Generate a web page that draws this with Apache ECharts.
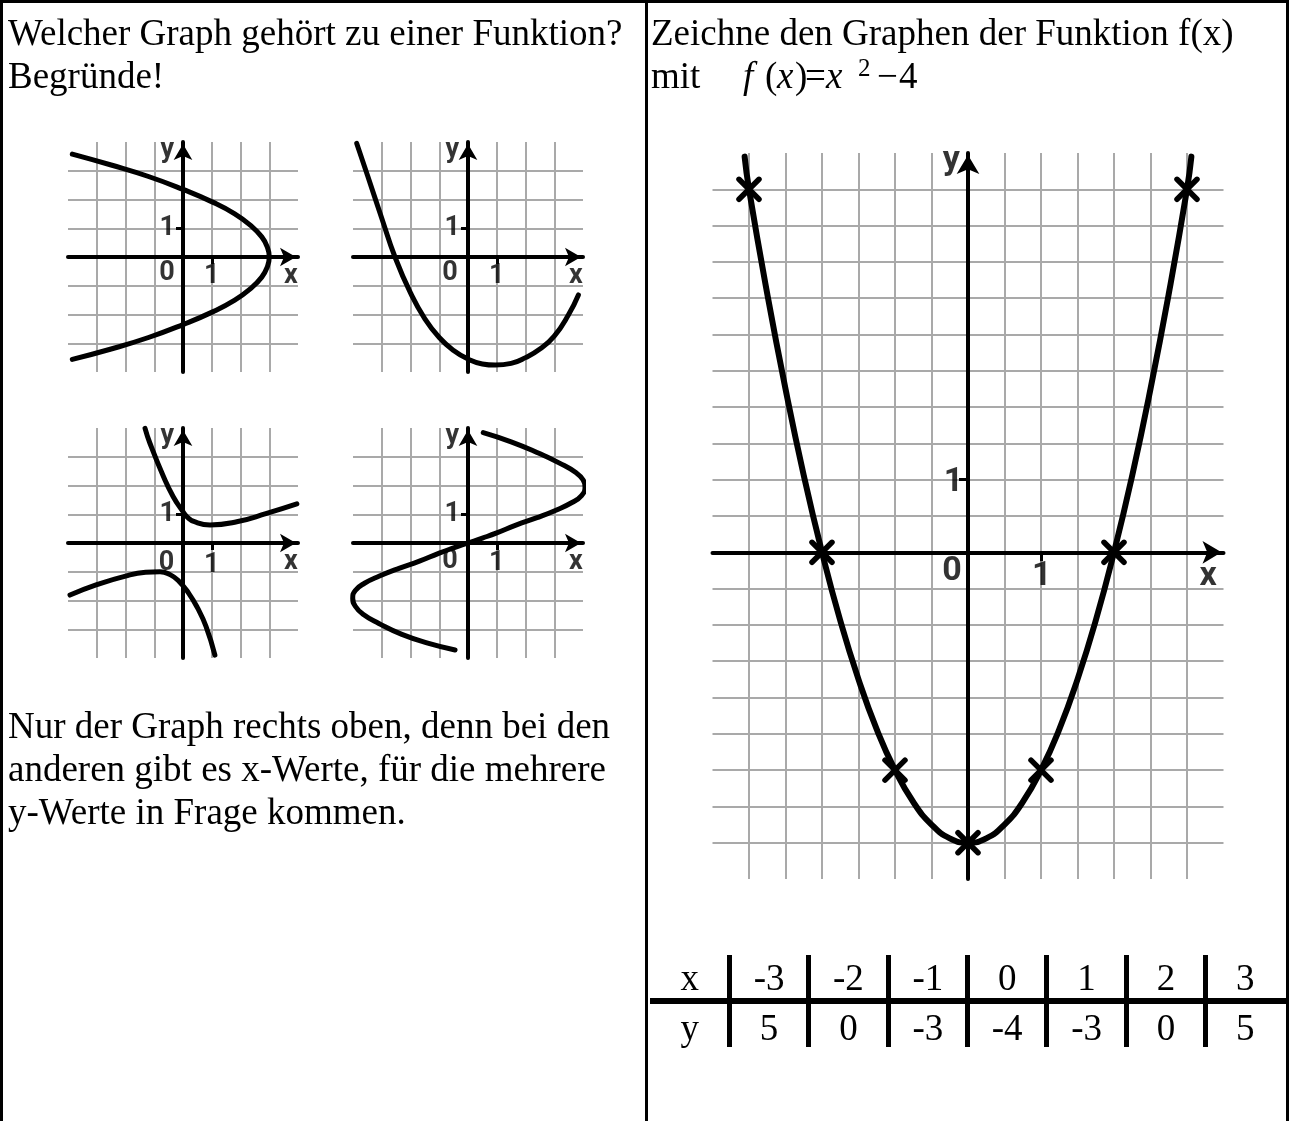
<!DOCTYPE html>
<html lang="de">
<head>
<meta charset="utf-8">
<title>Funktionen – Graphen</title>
<script src="https://cdn.jsdelivr.net/npm/echarts@6/dist/echarts.min.js"></script>
<style>
  html, body { margin: 0; padding: 0; background: #fff; }
  #page {
    position: relative; width: 1289px; height: 1121px; overflow: hidden;
    font-family: 'Liberation Serif', 'Times New Roman', serif;
    font-size: 37px; line-height: 43px; color: #000;
  }
  #chart { position: absolute; left: 0; top: 0; width: 1289px; height: 1121px; }
  .rule { position: absolute; background: #000; }
  .txt { position: absolute; white-space: nowrap; }
  .it { font-style: italic; }
  .cell { position: absolute; text-align: center; white-space: nowrap; }
</style>
</head>
<body>
<div id="page">
  <div id="chart"></div>
  <div id="overlay"></div>
</div>
<script>
// ---- data -------------------------------------------------------------
// value table of f(x) = x^2 - 4
const tableX = [-3, -2, -1, 0, 1, 2, 3];
const tableY = [5, 0, -3, -4, -3, 0, 5];

// points along the drawn parabola (ends run slightly past x = ±3)
const curveX = [-3.06, -3, -2.75, -2.5, -2.25, -2, -1.75, -1.5, -1.25, -1, -0.75, -0.5, -0.25, 0,
                0.25, 0.5, 0.75, 1, 1.25, 1.5, 1.75, 2, 2.25, 2.5, 2.75, 3, 3.06];
const curveY = [5.45, 5, 3.56, 2.25, 1.06, 0, -0.94, -1.75, -2.44, -3, -3.44, -3.75, -3.94, -4,
                -3.94, -3.75, -3.44, -3, -2.44, -1.75, -0.94, 0, 1.06, 2.25, 3.56, 5, 5.45];

// four small sketch graphs (points along each drawn curve)
const g1X = [-3.85, -2.5, -1.2, 0, 1.05, 1.8, 2.35, 2.74, 2.93, 3.0, 2.93, 2.74, 2.35, 1.8, 1.05, 0, -1.2, -2.5, -3.85];
const g1Y = [3.58, 3.2, 2.8, 2.35, 1.9, 1.5, 1.1, 0.7, 0.35, 0, -0.35, -0.7, -1.1, -1.5, -1.9, -2.35, -2.8, -3.2, -3.56];

const g2X = [-3.87, -3.5, -3.0, -2.54, -2.0, -1.5, -1.0, -0.5, 0, 0.5, 0.95, 1.5, 2.0, 2.5, 3.0, 3.5, 3.84];
const g2Y = [3.95, 2.85, 1.35, 0, -1.25, -2.15, -2.8, -3.25, -3.55, -3.72, -3.76, -3.7, -3.5, -3.2, -2.75, -2.0, -1.32];

const g3UpperX = [-1.32, -1.15, -0.68, -0.34, 0, 0.15, 0.4, 0.94, 1.87, 2.91, 3.96];
const g3UpperY = [3.99, 3.47, 2.31, 1.61, 1.09, 0.9, 0.74, 0.63, 0.74, 1.03, 1.36];
const g3LowerX = [-3.93, -3.0, -2.0, -1.3, -0.8, -0.45, -0.15, 0.2, 0.5, 0.8, 1.11];
const g3LowerY = [-1.81, -1.45, -1.15, -1.02, -1.0, -1.1, -1.32, -1.75, -2.25, -2.9, -3.9];

const g4X = [0.53, 1.5, 2.4, 3.2, 3.75, 4.0, 4.07, 3.95, 3.6, 3.08, 2.4, 1.69, 1.0, 0.5, 0,
             -0.5, -1.0, -1.69, -2.4, -3.08, -3.6, -3.92, -4.01, -3.92, -3.65, -3.1, -2.3, -1.4, -0.45];
const g4Y = [3.84, 3.52, 3.15, 2.77, 2.45, 2.2, 1.95, 1.65, 1.4, 1.15, 0.88, 0.63, 0.35, 0.17, 0,
             -0.17, -0.35, -0.63, -0.88, -1.15, -1.4, -1.65, -1.92, -2.2, -2.48, -2.8, -3.18, -3.48, -3.72];

// axis captions
const unitTick = 1;
const unitText = '1';
const originText = '0';
const xName = 'x';
const yName = 'y';

// worksheet texts
const questionLeft = ['Welcher Graph gehört zu einer Funktion?', 'Begründe!'];
const answerLeft = ['Nur der Graph rechts oben, denn bei den',
                    'anderen gibt es x-Werte, für die mehrere',
                    'y-Werte in Frage kommen.'];
const taskRight = 'Zeichne den Graphen der Funktion f(x)';

// ---- chart ------------------------------------------------------------
const INK = '#000';
const GRID_GREY = '#a9a9a9';
const LABEL_FONT = "Roboto, 'DejaVu Sans', sans-serif";

const pairs = (xs, ys) => xs.map((x, i) => [x, ys[i]]);

// pixel box of each coordinate system
const grids = [
  { left: 712.5, top: 153, width: 511, height: 726 },   // large graph
  { left: 68,  top: 142, width: 230, height: 230 },
  { left: 353, top: 142, width: 230, height: 230 },
  { left: 68,  top: 428, width: 230, height: 230 },
  { left: 353, top: 428, width: 230, height: 230 }
];
const ranges = [
  { x: [-3.5, 3.5], y: [-4.5, 5.5], step: 0.5, big: true },
  { x: [-4, 4], y: [-4, 4], step: 1, big: false },
  { x: [-4, 4], y: [-4, 4], step: 1, big: false },
  { x: [-4, 4], y: [-4, 4], step: 1, big: false },
  { x: [-4, 4], y: [-4, 4], step: 1, big: false }
];

// visible coordinate axes through the origin, with arrow and unit tick
function mainAxis(gi, isX) {
  const r = ranges[gi];
  const lim = isX ? r.x : r.y;
  return {
    gridIndex: gi, type: 'value', min: lim[0], max: lim[1], interval: r.step,
    position: isX ? 'bottom' : 'left',
    axisLine: {
      show: true, onZero: true, onZeroAxisIndex: gi,
      lineStyle: { color: INK, width: 4 },
      symbol: ['none', 'arrow'],
      symbolSize: r.big ? [17, 19] : [14, 16],
      symbolOffset: [0, -2]
    },
    axisTick: {
      show: true, customValues: [unitTick], length: r.big ? 9 : 7,
      lineStyle: { color: INK, width: 3 }
    },
    axisLabel: { show: false },
    splitLine: { show: false }
  };
}
// hidden companion axes that only draw the grey squares
function gridAxis(gi, isX) {
  const r = ranges[gi];
  const lim = isX ? r.x : r.y;
  return {
    gridIndex: gi, type: 'value', min: lim[0], max: lim[1], interval: r.step,
    position: isX ? 'top' : 'right',
    axisLine: { show: false }, axisTick: { show: false }, axisLabel: { show: false },
    splitLine: {
      show: true, showMinLine: false, showMaxLine: false,
      lineStyle: { color: GRID_GREY, width: 2 }
    }
  };
}

const xAxes = [], yAxes = [];
for (let g = 0; g < grids.length; g++) { xAxes.push(mainAxis(g, true)); yAxes.push(mainAxis(g, false)); }
for (let g = 0; g < grids.length; g++) { xAxes.push(gridAxis(g, true)); yAxes.push(gridAxis(g, false)); }

function curve(gi, pts, width) {
  return {
    type: 'line', xAxisIndex: gi, yAxisIndex: gi, data: pts,
    smooth: true, showSymbol: false, clip: false, silent: true, z: 3,
    lineStyle: { color: INK, width: width, cap: 'round', join: 'round' }
  };
}

function captions(gi, items, size) {
  return {
    type: 'scatter', xAxisIndex: gi, yAxisIndex: gi, silent: true, z: 6,
    symbolSize: 1, itemStyle: { color: 'rgba(0,0,0,0)' },
    data: items,
    label: {
      show: true, position: 'inside', formatter: '{b}', color: INK,
      fontFamily: LABEL_FONT, fontWeight: 'bold', fontSize: size
    }
  };
}

const smallCaption = (o0, x1) => [
  { name: originText, value: o0 },
  { name: unitText, value: x1 },
  { name: unitText, value: [-0.55, 1.0] },
  { name: xName, value: [3.75, -0.68] },
  { name: yName, value: [-0.55, 3.7] }
];

const option = {
  animation: false,
  grid: grids.map(g => Object.assign({ containLabel: false }, g)),
  xAxis: xAxes,
  yAxis: yAxes,
  series: [
    curve(0, pairs(curveX, curveY), 6),
    {
      type: 'scatter', xAxisIndex: 0, yAxisIndex: 0, silent: true, z: 5,
      data: pairs(tableX, tableY),
      symbol: 'path://M0,0L10,10M10,0L0,10', symbolSize: 20,
      itemStyle: { color: 'rgba(0,0,0,0)', opacity: 1, borderColor: INK, borderWidth: 5.5, borderCap: 'round' }
    },
    captions(0, [
      { name: originText, value: [-0.22, -0.26] },
      { name: unitText, value: [1.01, -0.33] },
      { name: unitText, value: [-0.2, 0.96] },
      { name: xName, value: [3.29, -0.34] },
      { name: yName, value: [-0.23, 5.4] }
    ], 34),
    curve(1, pairs(g1X, g1Y), 5),
    curve(2, pairs(g2X, g2Y), 5),
    curve(3, pairs(g3UpperX, g3UpperY), 5),
    curve(3, pairs(g3LowerX, g3LowerY), 5),
    curve(4, pairs(g4X, g4Y), 5),
    captions(1, smallCaption([-0.56, -0.55], [1.0, -0.66]), 27),
    captions(2, smallCaption([-0.63, -0.55], [1.0, -0.66]), 27),
    captions(3, smallCaption([-0.57, -0.7], [1.0, -0.76]), 27),
    captions(4, smallCaption([-0.63, -0.62], [1.0, -0.7]), 27)
  ]
};

const chart = echarts.init(document.getElementById('chart'), null, { renderer: 'canvas' });
chart.setOption(option);

// ---- worksheet frame, texts and value table ---------------------------
const overlay = document.getElementById('overlay');
function add(cls, css, html) {
  const d = document.createElement('div');
  d.className = cls;
  Object.assign(d.style, css);
  if (html !== undefined) d.innerHTML = html;
  overlay.appendChild(d);
  return d;
}

// frame lines
add('rule', { left: '0px', top: '0px', width: '1289px', height: '3px' });
add('rule', { left: '0px', top: '0px', width: '3px', height: '1121px' });
add('rule', { left: '1286px', top: '0px', width: '3px', height: '1121px' });
add('rule', { left: '645px', top: '0px', width: '3px', height: '1121px' });

// texts (37px serif, 43px line pitch; baseline sits 34px below a line top)
add('txt', { left: '8px', top: '11px' }, questionLeft.join('<br>'));
add('txt', { left: '8px', top: '704px' }, answerLeft.join('<br>'));
add('txt', { left: '651px', top: '11px' }, taskRight);
add('txt', { left: '651px', top: '54px' }, 'mit');

// formula f(x) = x² − 4
const formula = [
  ['f', 743, true], ['(', 765, false], ['x', 777, true], [')', 795, false],
  ['=', 805, false], ['x', 826, true], ['\u2212', 877, false], ['4', 899, false]
];
formula.forEach(([s, x, it]) => add('txt' + (it ? ' it' : ''), { left: x + 'px', top: '54px' }, s));
add('txt', { left: '858px', top: '46px', fontSize: '25px' }, '2');

// value table
const colW = (1285 - 650) / 8;
const rows = [[xName].concat(tableX.map(String)), [yName].concat(tableY.map(String))];
const rowTop = [956, 1006];
rows.forEach((row, r) => row.forEach((s, c) => {
  add('cell', { left: (650 + c * colW) + 'px', top: rowTop[r] + 'px', width: colW + 'px' }, s);
}));
add('rule', { left: '650px', top: '998px', width: '636px', height: '6px' });
for (let c = 1; c < 8; c++) {
  add('rule', { left: (650 + c * colW - 2.5) + 'px', top: '955px', width: '5px', height: '92px' });
}
</script>
</body>
</html>
